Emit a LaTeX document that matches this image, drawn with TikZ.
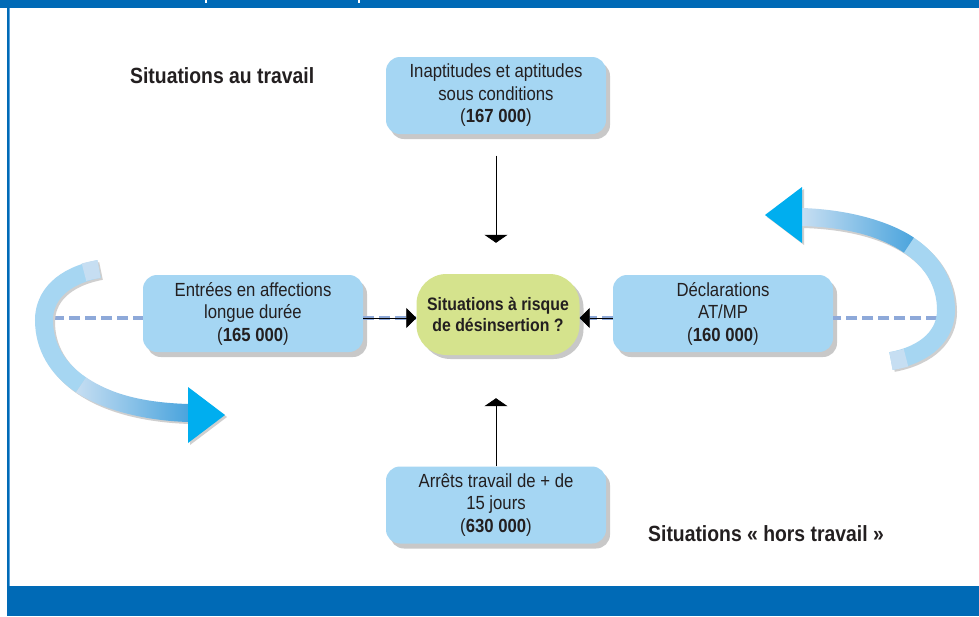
\documentclass[tikz,border=0pt]{standalone}
\usepackage{fontspec}
\setmainfont{Liberation Sans}[FakeStretch=0.88]
\usetikzlibrary{arrows.meta,shadows}
\definecolor{barblue}{HTML}{006AB6}
\definecolor{linelight}{HTML}{5BA3DC}
\definecolor{nodeblue}{HTML}{A5D6F3}
\definecolor{nodegreen}{HTML}{D5E38D}
\definecolor{shadowgray}{HTML}{C8C8C8}
\definecolor{bandshadow}{HTML}{CFCFCF}
\definecolor{dashblue}{HTML}{8EA9D9}
\definecolor{bandblue}{HTML}{A6D6F2}
\definecolor{bandlight}{HTML}{C6DEF2}
\definecolor{banddark}{HTML}{4AA4DD}
\definecolor{headcyan}{HTML}{00AEEF}
\definecolor{textdark}{HTML}{231F20}
\newcommand\myBigArrow[2]{%
  \begin{scope}[shift={(#1,#2)}]
    \draw[line width=18pt, bandshadow] (99,269) .. controls (62,276) and (44,296) .. (44,320) .. controls (44,372) and (95,410) .. (188,413);
    \fill[bandshadow] (188,387) -- (225,415) -- (188,443) -- cycle;
  \end{scope}
  \draw[line width=18pt, bandblue] (99,269) .. controls (62,276) and (44,296) .. (44,320) .. controls (44,346) and (56.75,368.5) .. (81.1,384.9);
  \draw[line width=18pt, bandlight] (99,269) .. controls (94,269.8) and (89,270.8) .. (84,272.2);
  \shade[left color=bandlight, right color=banddark] (76.1,392.4) .. controls (100.5,408.75) and (141.5,420.5) .. (188,422) -- (188,404) .. controls (141.5,402.5) and (110.5,393.75) .. (86.1,377.4) -- cycle;
  \fill[headcyan] (188,387) -- (225,415) -- (188,443) -- cycle;
}
\begin{document}
\begin{tikzpicture}[x=1pt,y=-1pt,
  box/.style={rectangle, rounded corners=14pt, fill=nodeblue, minimum width=220pt, minimum height=77pt,
    inner sep=0pt, align=center, text=textdark, font=\fontsize{19}{22.5}\selectfont,
    drop shadow={shadow xshift=4pt, shadow yshift=-5pt, fill=shadowgray, opacity=1}},
  centerbox/.style={rectangle, rounded corners=30pt, fill=nodegreen, minimum width=163pt, minimum height=81pt,
    inner sep=0pt, align=center, text=textdark, font=\bfseries\fontsize{18}{20.5}\selectfont,
    drop shadow={shadow xshift=4pt, shadow yshift=-4pt, fill=shadowgray, opacity=1}},
  titletext/.style={anchor=base west, inner sep=0pt, text=textdark, font=\bfseries\fontsize{22}{26}\selectfont},
  dashline/.style={dashblue, line width=4pt, dash pattern=on 11pt off 5pt},
  flowarrow/.style={black, line width=0.8pt, -{Triangle[width=23pt,length=8pt]}},
  sidearrow/.style={black, line width=0.8pt, -{Triangle[width=20pt,length=10pt]}}]
\useasboundingbox (0,0) rectangle (979,616);
\fill[white] (0,0) rectangle (979,616);
% frame
\fill[barblue] (0,0) rectangle (979,8);
\fill[white] (205,0) rectangle (206.8,3);
\fill[white] (358,0) rectangle (359.8,3);
\fill[barblue] (7,8) rectangle (9,586);
\fill[linelight] (9,8) rectangle (10,586);
\fill[barblue] (7,586) rectangle (979,616);
% free ends of the dashed lines
\coordinate (Lend) at (53,318);
\coordinate (Rend) at (937,318);
% nodes
\node[box] (T) at (496,95.5) {Inaptitudes et aptitudes\\sous conditions\\(\textbf{167 000})};
\node[box] (L) at (253,313.5) {Entrées en affections\\longue durée\\(\textbf{165 000})};
\node[box] (R) at (723,313.5) {Déclarations\\AT/MP\\(\textbf{160 000})};
\node[box] (B) at (496,505) {Arrêts travail de + de\\15 jours\\(\textbf{630 000})};
\node[centerbox] (C) at (498,314.5) {Situations à risque\\de désinsertion ?};
\draw[dashline] (Lend) -- (Lend -| L.west);
\draw[dashline] (Rend) -- (Rend -| R.east);
\draw[dashline] (Lend -| L.east) -- (Lend -| C.west);
\draw[dashline] (Rend -| R.west) -- (Rend -| C.east);
% big curved arrows
\myBigArrow{2}{2}
\begin{scope}[rotate around={180:(495,315)}]
  \myBigArrow{-2}{-2}
\end{scope}
% connectors
\draw[flowarrow, shorten <=21.5pt, shorten >=31pt] (T.south) -- (T.south |- C.north);
\draw[flowarrow, shorten >=43pt] (B.north) -- (B.north |- C.south);
\draw[sidearrow] (Lend -| L.east) -- (Lend -| C.west);
\draw[sidearrow] (Rend -| R.west) -- (Rend -| C.east);
% titles
\node[titletext] (t1) at (130,83) {Situations au travail};
\node[titletext] (t2) at (648,541) {Situations « hors travail »};
\end{tikzpicture}
\end{document}
